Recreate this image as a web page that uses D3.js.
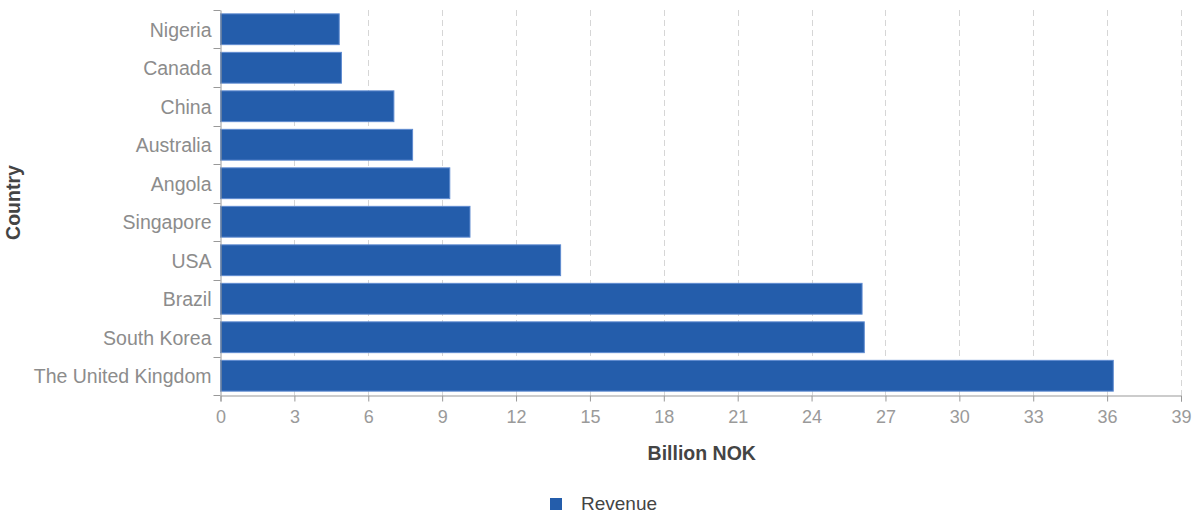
<!DOCTYPE html>
<html><head><meta charset="utf-8">
<script src="https://cdn.jsdelivr.net/npm/d3@7"></script>
<style>body{margin:0;background:#fff;font-family:"Liberation Sans",Arial,sans-serif;}</style>
</head><body>
<svg id="c" width="1195" height="513"></svg>
<script>
const categories = ["Nigeria","Canada","China","Australia","Angola","Singapore","USA","Brazil","South Korea","The United Kingdom"];
const revenue = [4.82,4.91,7.04,7.80,9.31,10.13,13.81,26.05,26.14,36.25];
const xTicks = [0,3,6,9,12,15,18,21,24,27,30,33,36,39];
const seriesName = "Revenue";
const xTitle = "Billion NOK";
const yTitle = "Country";

(function(){
const svg = d3.select("#c");
const mL = 220.5, mR = 1181, mT = 10, mB = 395;
const x = d3.scaleLinear().domain([0,39]).range([mL,mR]);
const y = d3.scaleBand().domain(categories).range([mT,mB]).paddingInner(0.2).paddingOuter(0.1);

// grid
svg.append("g").selectAll("line").data(xTicks.filter(t=>t>0)).join("line")
  .attr("x1",d=>Math.round(x(d))+0.5).attr("x2",d=>Math.round(x(d))+0.5)
  .attr("y1",mT).attr("y2",mB)
  .attr("stroke","#d6d6d6").attr("stroke-dasharray","6,4").attr("stroke-width",1);

// bars
svg.append("g").selectAll("rect").data(categories).join("rect")
  .attr("x",x(0)).attr("y",d=>y(d))
  .attr("width",(d,i)=>x(revenue[i])-x(0)).attr("height",y.bandwidth())
  .attr("fill","#245dab").attr("stroke","#5f8bd0").attr("stroke-width",1);

// x axis
const xa = svg.append("g").attr("transform",`translate(0,${mB+0.5})`)
  .call(d3.axisBottom(x).tickValues(xTicks).tickSize(6).tickPadding(9).tickFormat(d3.format("d")));
xa.select(".domain").attr("stroke","#999");
xa.selectAll(".tick line").attr("stroke","#999");
xa.selectAll("text").attr("fill","#9a9a9a").attr("font-size","18px").attr("font-family","Liberation Sans, Arial, sans-serif");

// y axis
const ya = svg.append("g").attr("transform",`translate(${mL},0)`)
  .call(d3.axisLeft(y).tickSize(0).tickPadding(9));
ya.select(".domain").attr("stroke","#999");
ya.selectAll("text").attr("fill","#8c8c8c").attr("font-size","19.5px").attr("dy","0.38em").attr("font-family","Liberation Sans, Arial, sans-serif");
// boundary ticks
const bounds = categories.map(c=>y(c)-y.step()*y.paddingInner()/2);
bounds.push(mB);
bounds[0]=mT;
svg.append("g").selectAll("line").data(bounds).join("line")
  .attr("x1",mL-7).attr("x2",mL).attr("y1",d=>Math.round(d)+0.5).attr("y2",d=>Math.round(d)+0.5)
  .attr("stroke","#999");

// titles
svg.append("text").attr("x",(mL+mR)/2+1).attr("y",460).attr("text-anchor","middle")
  .attr("font-weight","bold").attr("font-size","19.5px").attr("fill","#444").text(xTitle);
svg.append("text").attr("transform",`translate(20,${(mT+mB)/2}) rotate(-90)`).attr("text-anchor","middle")
  .attr("font-weight","bold").attr("font-size","19.5px").attr("fill","#444").text(yTitle);

// legend
svg.append("rect").attr("x",550).attr("y",498).attr("width",12).attr("height",12).attr("fill","#245dab");
svg.append("text").attr("x",581).attr("y",510).attr("font-size","19px").attr("fill","#444").text(seriesName);
})();
</script>
</body></html>
